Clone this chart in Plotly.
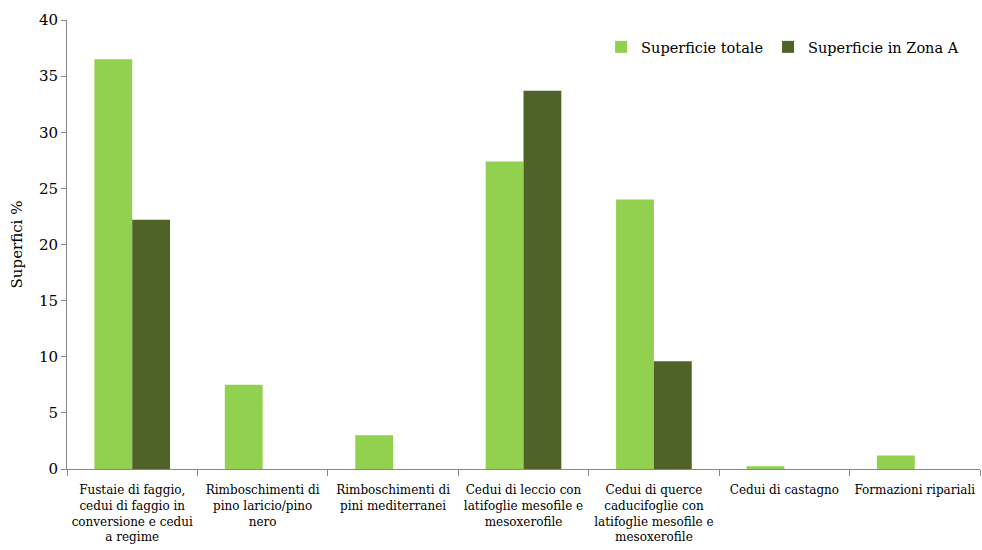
import plotly.graph_objects as go

categories = [
    "Fustaie di faggio,<br>cedui di faggio in<br>conversione e cedui<br>a regime",
    "Rimboschimenti di<br>pino laricio/pino<br>nero",
    "Rimboschimenti di<br>pini mediterranei",
    "Cedui di leccio con<br>latifoglie mesofile e<br>mesoxerofile",
    "Cedui di querce<br>caducifoglie con<br>latifoglie mesofile e<br>mesoxerofile",
    "Cedui di castagno",
    "Formazioni ripariali",
]
totale = [36.5, 7.5, 3.0, 27.4, 24.0, 0.25, 1.2]
zona_a = [22.2, 0, 0, 33.7, 9.6, 0, 0]
y_ticks = [0, 5, 10, 15, 20, 25, 30, 35, 40]

font = "DejaVu Serif"

fig = go.Figure()
fig.add_trace(go.Bar(x=categories, y=totale, name="Superficie totale",
                     marker=dict(color="#92D050", line=dict(width=0))))
fig.add_trace(go.Bar(x=categories, y=zona_a, name="Superficie in Zona A",
                     marker=dict(color="#4F6228", line=dict(width=0))))

fig.update_layout(
    width=982, height=550,
    margin=dict(l=67, r=2, t=20, b=81, autoexpand=False),
    paper_bgcolor="white", plot_bgcolor="white",
    barmode="group", bargap=0.42, bargroupgap=0,
    font=dict(family=font, size=13, color="black"),
    legend=dict(orientation="h", x=0.585, y=0.94, xanchor="left", yanchor="middle",
                font=dict(family=font, size=14.5), bgcolor="rgba(0,0,0,0)",
                itemwidth=30, traceorder="normal"),
    showlegend=True,
)
fig.update_xaxes(
    showline=True, linecolor="#888888", linewidth=1,
    ticks="outside", tickson="boundaries", ticklen=6, tickcolor="#888888",
    tickfont=dict(family=font, size=12), showgrid=False,
    tickangle=0, automargin=False, ticklabelstandoff=10,
)
fig.update_yaxes(
    range=[0, 40], tickvals=y_ticks,
    showline=True, linecolor="#888888", linewidth=1,
    ticks="outside", ticklen=5, tickcolor="#888888",
    tickfont=dict(family=font, size=15), showgrid=False, zeroline=False,
    automargin=False,
    title=dict(text="Superfici %", font=dict(family=font, size=15), standoff=12),
)

fig.write_html("out.html")
